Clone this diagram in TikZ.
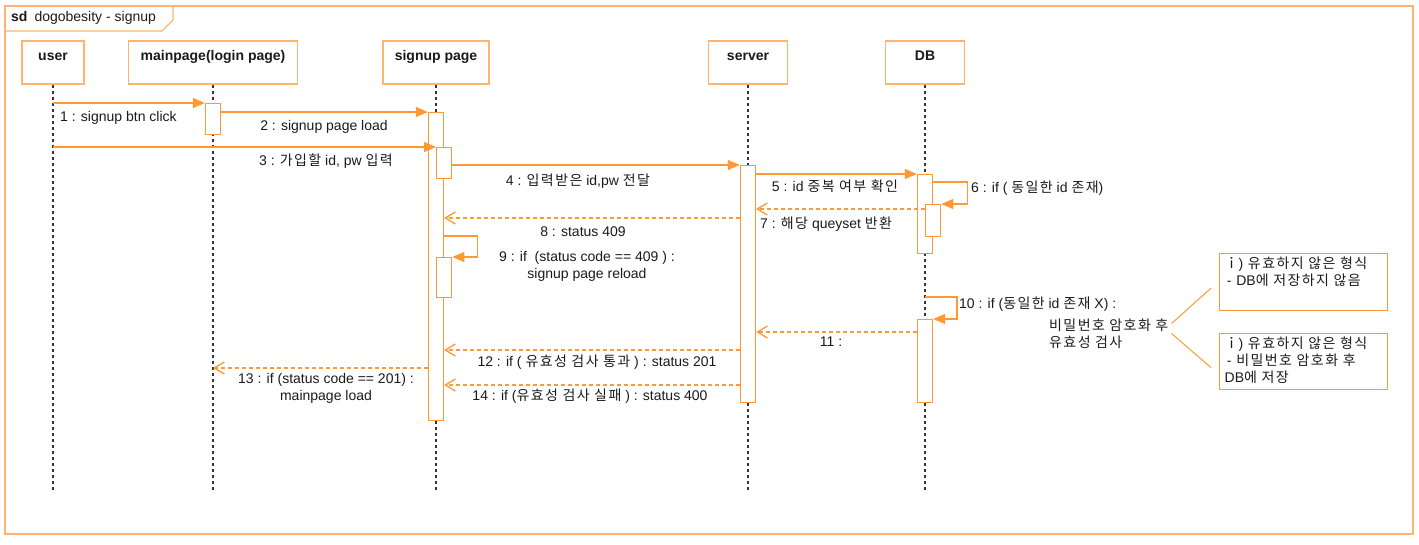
\documentclass[tikz,border=0pt]{standalone}
\usepackage{fontspec}
\setmainfont{Liberation Sans}
\newfontfamily\kr[LetterSpace=10]{Noto Sans CJK KR}
\usepackage{tikz}
\usetikzlibrary{positioning}
\usetikzlibrary{arrows.meta}

\definecolor{umlorange}{HTML}{FF9933}
\definecolor{umllight}{HTML}{FFB570}
\definecolor{umltext}{HTML}{1A1A1A}

\begin{document}
\begin{tikzpicture}[x=1pt, y=-1pt,
  every node/.style={font=\fontsize{14}{17}\selectfont, text=umltext, inner sep=0pt},
  head/.style={draw=umllight, line width=1.3pt, minimum height=43pt, inner sep=3pt,
    text height=16pt, text depth=21pt, font=\fontsize{14}{17}\selectfont\bfseries},
  lifeline/.style={draw=black!80, line width=1.3pt, dash pattern=on 3pt off 3pt},
  act/.style={draw=umlorange, fill=white, line width=1.3pt, minimum width=15pt, anchor=north},
  msg/.style={draw=umlorange, line width=1.3pt, -{Triangle[length=12pt,width=10pt]}},
  ret/.style={draw=umlorange, line width=1.3pt, dash pattern=on 4pt off 3pt,
    -{Straight Barb[length=10pt,width=12pt]}},
  note/.style={draw=umlorange, line width=1.3pt, anchor=north west, align=left,
    text width=158pt, inner xsep=5pt, inner ysep=3pt, text height=12pt}]
  \useasboundingbox (0,0) rectangle (1419,544);

  % frame
  \draw[umllight, line width=1.3pt] (5,6) rectangle (1413,534);
  \draw[umllight, line width=1.3pt] (5,31) -- (162,31) -- (173,20) -- (173,6);
  \node[anchor=west] (title) at (11,18) {\textbf{sd}\hspace{7pt}dogobesity - signup};

  % lifelines
  \node[head, minimum width=62pt] (user) at (53,62.5) {user};
  \node[head, minimum width=169pt] (mainpage) at (213,62.5) {mainpage(login page)};
  \node[head, minimum width=106pt] (signup) at (436,62.5) {signup page};
  \node[head, minimum width=79pt] (server) at (748,62.5) {server};
  \node[head, minimum width=79pt] (db) at (925,62.5) {DB};

  \coordinate (bottom) at (0,492);
  \foreach \n in {user,mainpage,signup,server,db}
    \draw[lifeline] (\n.south) -- (\n.south |- bottom);

  % activations
  \node[act, minimum height=31pt] (mainact) at (mainpage |- 0,103) {};
  \node[act, minimum height=308pt] (signact) at (signup |- 0,112) {};
  \node[act, minimum height=31pt] (signact3) at (signact.east |- 0,147) {};
  \node[act, minimum height=40pt] (signact9) at (signact.east |- 0,257) {};
  \node[act, minimum height=237pt] (servact) at (server |- 0,165) {};
  \node[act, minimum height=79pt] (dbact) at (db |- 0,174) {};
  \node[act, minimum height=32pt] (dbact6) at (dbact.east |- 0,204) {};
  \node[act, minimum height=83pt] (dbact10) at (db |- 0,319) {};

  % messages
  \draw[msg] (user |- mainact.north) -- (mainact.north west);
  \draw[msg] (mainact.east |- signact.north) -- (signact.north west);
  \draw[msg] (user |- signact3.north) -- (signact3.north west);
  \draw[msg] (signact3.east |- servact.north) -- (servact.north west);
  \draw[msg] (servact.east |- dbact.north) -- (dbact.north west);
  \draw[msg] ([yshift=-8pt]dbact.north east) -- ++(34,0) |- (dbact6.north east);
  \draw[ret] (dbact6.west |- 0,209) -- (servact.east |- 0,209);
  \draw[ret] (servact.west |- 0,218) -- (signact.east |- 0,218);
  \draw[msg] (signact.east |- 0,236) -- ++(33,0) |- (signact9.north east);
  \draw[msg] (db |- 0,297) -- ++(32,0) |- (dbact10.north east);
  \draw[ret] (dbact10.west |- 0,332) -- (servact.east |- 0,332);
  \draw[ret] (servact.west |- 0,350) -- (signact.east |- 0,350);
  \draw[ret] (signact.west |- 0,368) -- (mainpage |- 0,368);
  \draw[ret] (servact.west |- 0,385) -- (signact.east |- 0,385);

  % labels
  \node[anchor=west] (l1) at (60,118) {1 : signup btn click};
  \node (l2) at (324,127) {2 : signup page load};
  \node (l3) at (326,161) {3 : {\kr 가입할} id, pw {\kr 입력}};
  \node (l4) at (578,181) {4 : {\kr 입력받은} id,pw {\kr 전달}};
  \node (l5) at (835,186) {5 : id {\kr 중복 여부 확인}};
  \node[anchor=west] (l6) at (971,188) {6 : if ( {\kr 동일한} id {\kr 존재})};
  \node[anchor=west] (l7) at (760,224) {7 : {\kr 해당} queyset {\kr 반환}};
  \node (l8) at (583,232) {8 : status 409};
  \node[align=center] (l9) at (587,266) {9 : if\ \ (status code == 409 ) :\\signup page reload};
  \node[anchor=west] (l10) at (959,304) {10 : if ({\kr 동일한} id {\kr 존재} X) :};
  \node[anchor=west, align=left] (pwnote) at (1049,333.5) {{\kr 비밀번호 암호화 후}\\{\kr 유효성 검사}};
  \node (l11) at (831,342) {11 :};
  \node (l12) at (597,362) {12 : if ( {\kr 유효성 검사 통과} ) : status 201};
  \node[align=center] (l13) at (326,388) {13 : if (status code == 201) :\\mainpage load};
  \node (l14) at (590,396) {14 : if ({\kr 유효성 검사 실패} ) : status 400};

  % notes
  \node[note, text depth=39pt] (note1) at (1219,253)
    {{\kr ｉ}) {\kr 유효하지 않은 형식}\\\,- DB{\kr 에 저장하지 않음}};
  \node[note, text depth=38pt] (note2) at (1219,333)
    {{\kr ｉ}) {\kr 유효하지 않은 형식}\\\,- {\kr 비밀번호 암호화 후}\\DB{\kr 에 저장}};
  \draw[umlorange, line width=1pt] ([shift={(3pt,10pt)}]pwnote.east) -- ([shift={(-8pt,-6pt)}]note1.west);
  \draw[umlorange, line width=1pt] ([shift={(3pt,0pt)}]pwnote.east) -- ([shift={(-8pt,-6pt)}]note2.west);
\end{tikzpicture}
\end{document}
